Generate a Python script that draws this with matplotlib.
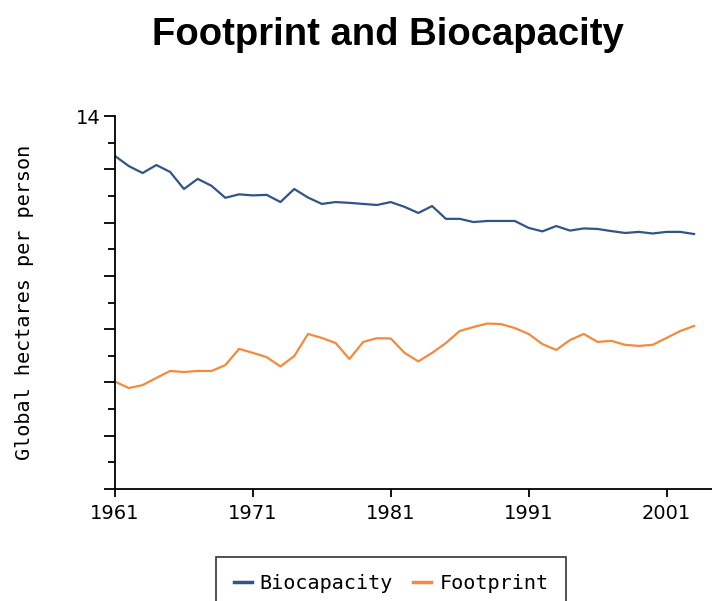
import matplotlib.pyplot as plt

years = list(range(1961, 2004))

biocapacity = [12.50, 12.12, 11.86, 12.16, 11.90, 11.26, 11.64, 11.38, 10.93, 11.06,
               11.02, 11.04, 10.77, 11.26, 10.94, 10.70, 10.77, 10.74, 10.70, 10.66,
               10.77, 10.59, 10.36, 10.62, 10.14, 10.14, 10.02, 10.06, 10.06, 10.06,
               9.80, 9.67, 9.87, 9.70, 9.78, 9.76, 9.68, 9.61, 9.65, 9.59,
               9.65, 9.65, 9.57]

footprint = [4.03, 3.79, 3.90, 4.17, 4.43, 4.39, 4.43, 4.43, 4.65, 5.26,
             5.11, 4.95, 4.60, 4.99, 5.82, 5.67, 5.48, 4.88, 5.52, 5.66,
             5.65, 5.11, 4.79, 5.11, 5.48, 5.93, 6.08, 6.21, 6.19, 6.04,
             5.82, 5.44, 5.22, 5.59, 5.82, 5.52, 5.56, 5.41, 5.37, 5.41,
             5.67, 5.93, 6.12]

xtick_years = [1961, 1971, 1981, 1991, 2001]
ytick_major = [0, 2, 4, 6, 8, 10, 12, 14]
ytick_minor = [1, 3, 5, 7, 9, 11, 13]
ytick_labels = ["", "", "", "", "", "", "", "14"]

blue = "#32548a"
orange = "#f58a3c"

fig = plt.figure(figsize=(7.12, 6.01), dpi=100)
ax = fig.add_axes([115 / 712, 112 / 601, 597 / 712, 373 / 601])

ax.plot(years, biocapacity, color=blue, lw=1.6, label="Biocapacity")
ax.plot(years, footprint, color=orange, lw=1.6, label="Footprint")

ax.set_xlim(1961, 2004.3)
ax.set_ylim(0, 14)

ax.spines["top"].set_visible(False)
ax.spines["right"].set_visible(False)
ax.spines["left"].set_linewidth(1.3)
ax.spines["bottom"].set_linewidth(1.3)

ax.set_xticks(xtick_years)
ax.set_xticklabels([str(y) for y in xtick_years], fontsize=14, family="DejaVu Sans")
ax.tick_params(axis="x", length=6, width=1.3, pad=5)

ax.set_yticks(ytick_major)
ax.set_yticks(ytick_minor, minor=True)
ax.set_yticklabels(ytick_labels, fontsize=14, family="DejaVu Sans")
ax.tick_params(axis="y", which="major", length=8, width=1.3, pad=2)
ax.tick_params(axis="y", which="minor", length=5, width=1.3)

ax.set_ylabel("Global hectares per person", family="DejaVu Sans Mono", fontsize=14.5)
ax.yaxis.set_label_coords(-0.135, 0.5)

fig.text(388 / 712, 1 - 35 / 601, "Footprint and Biocapacity", ha="center", va="center",
         fontsize=27.5, fontweight="bold", family="Liberation Sans")

leg = fig.legend(loc="upper center", bbox_to_anchor=(391 / 712, 1 - 557 / 601), ncol=2,
                 prop={"family": "DejaVu Sans Mono", "size": 14.5}, frameon=True, fancybox=False,
                 handlelength=0.9, handletextpad=0.4, columnspacing=1.0, borderpad=0.85,
                 borderaxespad=0)
leg.get_frame().set_edgecolor("black")
leg.get_frame().set_linewidth(1.2)
for line in leg.get_lines():
    line.set_linewidth(2.5)

fig.savefig("out.png", dpi=100)
